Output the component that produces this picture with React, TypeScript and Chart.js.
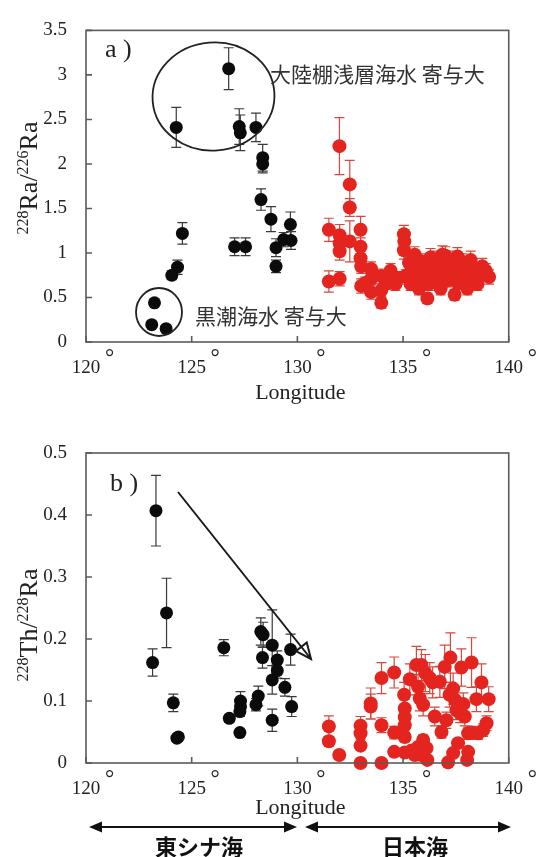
import React, { useEffect, useRef } from 'react';
import { Chart, registerables } from 'chart.js';

Chart.register(...registerables);

const SERIF = "'Liberation Serif', 'Times New Roman', serif";
const JP = "'Noto Sans CJK JP', 'Noto Sans CJK SC', sans-serif";

// ---------- axes ----------
const xTickValues = [120, 125, 130, 135, 140];
const xTickLabels = ['120', '125', '130', '135', '140'];
const raTickValues = [0, 0.5, 1, 1.5, 2, 2.5, 3, 3.5];
const raTickLabels = ['0', '0.5', '1', '1.5', '2', '2.5', '3', '3.5'];
const thTickValues = [0, 0.1, 0.2, 0.3, 0.4, 0.5];
const thTickLabels = ['0', '0.1', '0.2', '0.3', '0.4', '0.5'];

// ---------- a) 228Ra/226Ra ----------
// East China Sea (black)
const raEcsLon = [126.75, 124.27, 127.25, 127.30, 128.04, 128.36, 128.36, 128.28, 128.75, 129.67, 129.35, 129.70, 128.99, 128.99, 127.03, 127.55, 124.56, 124.33, 124.06, 123.24, 123.11, 123.79];
const raEcsVal = [3.07, 2.41, 2.42, 2.35, 2.41, 2.07, 2.00, 1.60, 1.38, 1.32, 1.15, 1.14, 1.06, 0.85, 1.07, 1.07, 1.22, 0.84, 0.75, 0.44, 0.195, 0.15];
const raEcsErr = [0.235, 0.225, 0.2, 0.2, 0.16, 0.15, 0.1, 0.12, 0.14, 0.14, 0.08, 0.1, 0.1, 0.07, 0.1, 0.1, 0.12, 0.08, 0.05, 0, 0, 0];
// Sea of Japan (red)
const raJsLon = [131.99, 132.48, 132.48, 132.48, 131.49, 132.00, 132.00, 132.00, 131.49, 132.00, 132.99, 132.99, 132.99, 133.02, 133.02, 133.49, 133.49, 133.49, 133.97, 133.97, 133.97, 134.49, 134.64, 135.04, 135.06, 135.04, 135.28, 135.55, 135.12, 135.59, 135.75, 136.15, 136.22, 136.07, 136.54, 136.62, 136.78, 136.86, 137.17, 137.25, 137.09, 137.44, 137.57, 137.73, 137.88, 138.04, 138.20, 138.36, 138.75, 138.91, 139.07, 138.52, 135.83, 136.38, 136.93, 135.36, 134.41,
  135.90, 136.30, 136.70, 137.00, 137.40, 137.80, 138.10, 136.50, 137.30, 138.60, 135.40, 136.00, 137.60, 138.30, 134.80, 134.20, 133.20, 136.95, 137.65, 136.45];
const raJsVal = [2.20, 1.77, 1.51, 1.13, 1.26, 1.20, 1.11, 1.02, 0.68, 0.71, 1.26, 1.07, 0.94, 0.85, 0.63, 0.82, 0.71, 0.56, 0.74, 0.58, 0.44, 0.71, 0.65, 1.21, 1.13, 1.03, 0.89, 0.98, 0.74, 0.73, 0.60, 0.49, 0.65, 0.82, 0.89, 0.71, 0.60, 0.98, 0.92, 0.82, 0.69, 0.53, 0.96, 0.82, 0.71, 0.60, 0.92, 0.78, 0.85, 0.80, 0.73, 0.65, 0.82, 0.76, 0.80, 0.65, 0.80,
  0.90, 0.95, 0.85, 0.97, 0.88, 0.90, 0.85, 0.78, 0.74, 0.75, 0.82, 0.70, 0.66, 0.70, 0.72, 0.66, 0.66, 0.88, 0.86, 0.93];
const raJsErr = [0.32, 0.27, 0.1, 0.23, 0.13, 0.12, 0.1, 0.1, 0.12, 0.08, 0.15, 0.1, 0.1, 0.08, 0.08, 0.08, 0.07, 0.08, 0.08, 0.07, 0.06, 0.07, 0.07, 0.1, 0.1, 0.1, 0.08, 0.09, 0.07, 0.08, 0.07, 0.06, 0.07, 0.08, 0.09, 0.07, 0.07, 0.1, 0.1, 0.08, 0.07, 0.06, 0.1, 0.09, 0.08, 0.07, 0.1, 0.08, 0.09, 0.08, 0.08, 0.07, 0.08, 0.08, 0.09, 0.07, 0.08,
  0.09, 0.1, 0.09, 0.1, 0.09, 0.09, 0.09, 0.08, 0.08, 0.08, 0.08, 0.07, 0.07, 0.07, 0.07, 0.07, 0.07, 0.09, 0.09, 0.09];

// ---------- b) 228Th/228Ra ----------
const thEcsLon = [123.31, 123.81, 123.15, 124.13, 124.37, 124.30, 126.52, 126.78, 127.28, 127.31, 127.31, 127.28, 128.04, 128.15, 128.27, 128.38, 128.35, 128.81, 128.81, 128.81, 129.05, 129.05, 129.41, 129.68, 129.73];
const thEcsVal = [0.407, 0.242, 0.162, 0.097, 0.042, 0.040, 0.186, 0.072, 0.049, 0.100, 0.091, 0.083, 0.094, 0.108, 0.212, 0.207, 0.170, 0.190, 0.134, 0.069, 0.166, 0.149, 0.122, 0.183, 0.091];
const thEcsErr = [0.057, 0.056, 0.022, 0.014, 0.004, 0, 0.013, 0.006, 0.004, 0.015, 0.01, 0.008, 0.01, 0.016, 0.022, 0.02, 0.017, 0.057, 0.023, 0.018, 0.015, 0.012, 0.014, 0.025, 0.016];
const thJsLon = [131.49, 131.49, 131.98, 132.99, 132.99, 132.99, 132.99, 133.47, 133.47, 133.98, 133.98, 133.98, 134.58, 134.58, 134.58, 135.05, 135.08, 135.08, 135.08, 135.08, 135.08, 135.32, 135.63, 135.87, 135.71, 135.79, 135.95, 135.71, 135.87, 135.95, 136.11, 136.26, 136.50, 136.74, 136.82, 136.97, 137.05, 137.24, 137.37, 137.45, 137.53, 137.60, 137.37, 137.13, 137.76, 137.92, 138.08, 138.03, 138.24, 138.24, 138.47, 138.55, 138.71, 138.79, 138.95, 139.05, 138.08,
  135.55, 136.05, 136.40, 137.20, 137.70, 136.15, 135.40, 137.85];
const thJsVal = [0.059, 0.035, 0.013, 0.060, 0.048, 0.028, 0.000, 0.096, 0.091, 0.137, 0.061, 0.000, 0.146, 0.049, 0.018, 0.110, 0.088, 0.074, 0.061, 0.042, 0.017, 0.135, 0.158, 0.158, 0.123, 0.104, 0.094, 0.026, 0.013, 0.037, 0.024, 0.137, 0.075, 0.131, 0.050, 0.155, 0.069, 0.170, 0.120, 0.102, 0.085, 0.032, 0.016, 0.001, 0.154, 0.075, 0.018, 0.005, 0.162, 0.049, 0.103, 0.048, 0.130, 0.053, 0.064, 0.103, 0.048,
  0.013, 0.145, 0.130, 0.110, 0.080, 0.005, 0.020, 0.095];
const thJsErr = [0.017, 0.008, 0.004, 0.015, 0.01, 0.006, 0, 0.025, 0.02, 0.025, 0.012, 0, 0.025, 0.01, 0.005, 0.02, 0.015, 0.013, 0.012, 0.008, 0.005, 0.025, 0.03, 0.025, 0.02, 0.02, 0.018, 0.006, 0.004, 0.008, 0.006, 0.025, 0.015, 0.025, 0.01, 0.035, 0.013, 0.04, 0.025, 0.02, 0.015, 0.007, 0.004, 0, 0.03, 0.015, 0.005, 0, 0.04, 0.01, 0.02, 0.01, 0.03, 0.01, 0.012, 0.02, 0.01,
  0.004, 0.03, 0.025, 0.02, 0.015, 0, 0.005, 0.018];

const BLACK = '#0b0b0b';
const BLACK_ERR = '#3a3a3a';
const RED = '#e4251f';
const RED_ERR = '#d9473d';
const FRAME = '#5f5959';

function toPoints(xs: number[], ys: number[]) {
  return xs.map((x, i) => ({ x, y: ys[i] }));
}

const errorBarPlugin = {
  id: 'errorBars',
  beforeDatasetsDraw(chart: any) {
    const ctx = chart.ctx;
    const ys = chart.scales.y;
    chart.data.datasets.forEach((ds: any, i: number) => {
      const errs: number[] = ds.errors;
      if (!errs) return;
      const meta = chart.getDatasetMeta(i);
      ctx.save();
      ctx.strokeStyle = ds.errorColor;
      ctx.lineWidth = 1.2;
      meta.data.forEach((pt: any, j: number) => {
        const e = errs[j];
        if (!e) return;
        const v = ds.data[j].y;
        const y1 = ys.getPixelForValue(v + e);
        const y2 = ys.getPixelForValue(v - e);
        const x = pt.x;
        ctx.beginPath();
        ctx.moveTo(x, y1); ctx.lineTo(x, y2);
        ctx.moveTo(x - 5, y1); ctx.lineTo(x + 5, y1);
        ctx.moveTo(x - 5, y2); ctx.lineTo(x + 5, y2);
        ctx.stroke();
      });
      ctx.restore();
    });
  },
};

function drawFrame(chart: any) {
  const ctx = chart.ctx;
  const a = chart.chartArea;
  ctx.save();
  ctx.strokeStyle = FRAME;
  ctx.lineWidth = 1.6;
  ctx.strokeRect(a.left, a.top, a.right - a.left, a.bottom - a.top);
  ctx.beginPath();
  chart.scales.x.ticks.forEach((t: any) => {
    const px = chart.scales.x.getPixelForValue(t.value);
    ctx.moveTo(px, a.bottom); ctx.lineTo(px, a.bottom - 6);
  });
  chart.scales.y.ticks.forEach((t: any) => {
    const py = chart.scales.y.getPixelForValue(t.value);
    ctx.moveTo(a.left, py); ctx.lineTo(a.left + 6, py);
  });
  ctx.stroke();
  // degree marks after longitude tick labels
  ctx.fillStyle = '#222';
  ctx.font = `23px ${SERIF}`;
  ctx.textAlign = 'center';
  ctx.textBaseline = 'alphabetic';
  chart.scales.x.ticks.forEach((t: any) => {
    const px = chart.scales.x.getPixelForValue(t.value);
    ctx.fillText('°', px + 23.5, a.bottom + 23);
  });
  // x title
  ctx.font = `22px ${SERIF}`;
  ctx.fillText('Longitude', (a.left + a.right) / 2 + 3, 399);
  ctx.restore();
}

function drawYTitle(ctx: any, parts: { t: string; sup: boolean }[], cx: number, cy: number) {
  ctx.save();
  ctx.fillStyle = '#222';
  ctx.textAlign = 'left';
  ctx.textBaseline = 'alphabetic';
  const mainF = `26px ${SERIF}`;
  const supF = `16px ${SERIF}`;
  let total = 0;
  parts.forEach((p) => { ctx.font = p.sup ? supF : mainF; total += ctx.measureText(p.t).width; });
  ctx.translate(cx, cy);
  ctx.rotate(-Math.PI / 2);
  let x = -total / 2;
  parts.forEach((p) => {
    ctx.font = p.sup ? supF : mainF;
    ctx.fillText(p.t, x, p.sup ? 0 : 9);
    x += ctx.measureText(p.t).width;
  });
  ctx.restore();
}

function arrowHead(ctx: any, x: number, y: number, dir: number) {
  ctx.beginPath();
  ctx.moveTo(x, y);
  ctx.lineTo(x - dir * 13, y - 5.5);
  ctx.lineTo(x - dir * 13, y + 5.5);
  ctx.closePath();
  ctx.fill();
}

const topDeco = {
  id: 'topDeco',
  afterDatasetsDraw(chart: any) {
    const ctx = chart.ctx;
    drawFrame(chart);
    drawYTitle(ctx, [
      { t: '228', sup: true }, { t: 'Ra/', sup: false }, { t: '226', sup: true }, { t: 'Ra', sup: false },
    ], 28, 178);
    ctx.save();
    ctx.fillStyle = '#222';
    ctx.font = `26px ${SERIF}`;
    ctx.textAlign = 'left';
    ctx.textBaseline = 'alphabetic';
    ctx.fillText('a )', 105, 57);
    ctx.strokeStyle = '#222';
    ctx.lineWidth = 1.8;
    ctx.beginPath();
    ctx.ellipse(213.5, 96.5, 61, 54, -0.08, 0, Math.PI * 2);
    ctx.stroke();
    ctx.beginPath();
    ctx.ellipse(159, 312, 23, 24, 0, 0, Math.PI * 2);
    ctx.stroke();
    ctx.fillStyle = '#333';
    ctx.font = `21px ${JP}`;
    ctx.textBaseline = 'middle';
    ctx.fillText('大陸棚浅層海水 寄与大', 270, 74);
    ctx.fillText('黒潮海水 寄与大', 195, 316);
    ctx.restore();
  },
};

const bottomDeco = {
  id: 'bottomDeco',
  afterDatasetsDraw(chart: any) {
    const ctx = chart.ctx;
    drawFrame(chart);
    drawYTitle(ctx, [
      { t: '228', sup: true }, { t: 'Th/', sup: false }, { t: '228', sup: true }, { t: 'Ra', sup: false },
    ], 28, 210);
    ctx.save();
    ctx.fillStyle = '#222';
    ctx.font = `26px ${SERIF}`;
    ctx.textAlign = 'left';
    ctx.textBaseline = 'alphabetic';
    ctx.fillText('b )', 110, 76);
    // diagonal trend arrow
    ctx.strokeStyle = '#1a1a1a';
    ctx.lineWidth = 2;
    const x0 = 178, y0 = 77, x1 = 311, y1 = 244;
    ctx.beginPath();
    ctx.moveTo(x0, y0); ctx.lineTo(x1, y1);
    ctx.stroke();
    const ang = Math.atan2(y1 - y0, x1 - x0);
    const hl = 17, hw = 0.42;
    ctx.beginPath();
    ctx.moveTo(x1 - hl * Math.cos(ang - hw), y1 - hl * Math.sin(ang - hw));
    ctx.lineTo(x1, y1);
    ctx.lineTo(x1 - hl * Math.cos(ang + hw), y1 - hl * Math.sin(ang + hw));
    ctx.closePath();
    ctx.stroke();
    // region double arrows
    ctx.fillStyle = '#111';
    ctx.strokeStyle = '#111';
    ctx.lineWidth = 2;
    const ay = 412;
    ctx.beginPath();
    ctx.moveTo(92, ay); ctx.lineTo(294, ay);
    ctx.moveTo(308, ay); ctx.lineTo(508, ay);
    ctx.stroke();
    arrowHead(ctx, 89, ay, -1);
    arrowHead(ctx, 297, ay, 1);
    arrowHead(ctx, 305, ay, -1);
    arrowHead(ctx, 511, ay, 1);
    ctx.font = `bold 22px ${JP}`;
    ctx.textAlign = 'center';
    ctx.textBaseline = 'middle';
    ctx.fillText('東シナ海', 199, 432);
    ctx.fillText('日本海', 415, 432);
    ctx.restore();
  },
};

function makeConfig(
  datasets: any[], yMax: number, yVals: number[], yLabels: string[], padTop: number, xHeight: number, deco: any,
) {
  return {
    type: 'scatter' as const,
    data: { datasets },
    plugins: [errorBarPlugin, deco],
    options: {
      responsive: false,
      maintainAspectRatio: false,
      animation: false as const,
      events: [],
      layout: { padding: { top: padTop, right: 29, left: 0, bottom: 0 } },
      plugins: { legend: { display: false }, tooltip: { enabled: false } },
      scales: {
        x: {
          type: 'linear' as const,
          min: 120,
          max: 140,
          afterBuildTicks: (s: any) => { s.ticks = xTickValues.map((v) => ({ value: v })); },
          afterFit: (s: any) => { s.height = xHeight; },
          ticks: {
            callback: (_v: any, i: number) => xTickLabels[i],
            font: { family: SERIF, size: 19 },
            color: '#222',
            padding: 15,
            maxRotation: 0,
            autoSkip: false,
          },
          grid: { display: false, drawTicks: false },
          border: { display: false },
        },
        y: {
          type: 'linear' as const,
          min: 0,
          max: yMax,
          afterBuildTicks: (s: any) => { s.ticks = yVals.map((v) => ({ value: v })); },
          afterFit: (s: any) => { s.width = 86; },
          ticks: {
            callback: (_v: any, i: number) => yLabels[i],
            font: { family: SERIF, size: 19 },
            color: '#222',
            padding: 19,
            autoSkip: false,
          },
          grid: { display: false, drawTicks: false },
          border: { display: false },
        },
      },
    },
  };
}

function ds(xs: number[], ys: number[], errs: number[], color: string, errColor: string, r: number) {
  return {
    data: toPoints(xs, ys),
    errors: errs,
    errorColor: errColor,
    backgroundColor: color,
    borderColor: color,
    borderWidth: 0,
    pointRadius: r,
    clip: false,
  };
}

export default function App() {
  const topRef = useRef<HTMLCanvasElement>(null);
  const botRef = useRef<HTMLCanvasElement>(null);

  useEffect(() => {
    Chart.defaults.font.family = SERIF;
    const c1 = new Chart(topRef.current as any, makeConfig(
      [ds(raJsLon, raJsVal, raJsErr, RED, RED_ERR, 7), ds(raEcsLon, raEcsVal, raEcsErr, BLACK, BLACK_ERR, 6.5)],
      3.5, raTickValues, raTickLabels, 19, 73, topDeco,
    ) as any);
    const c2 = new Chart(botRef.current as any, makeConfig(
      [ds(thJsLon, thJsVal, thJsErr, RED, RED_ERR, 7), ds(thEcsLon, thEcsVal, thEcsErr, BLACK, BLACK_ERR, 6.5)],
      0.5, thTickValues, thTickLabels, 38, 94, bottomDeco,
    ) as any);
    return () => { c1.destroy(); c2.destroy(); };
  }, []);

  return (
    <div style={{ position: 'absolute', left: 0, top: 0, width: 538, height: 857, background: '#fff' }}>
      <canvas ref={topRef} width={538} height={415} style={{ position: 'absolute', left: 0, top: 0 }} />
      <canvas ref={botRef} width={538} height={442} style={{ position: 'absolute', left: 0, top: 415 }} />
    </div>
  );
}
